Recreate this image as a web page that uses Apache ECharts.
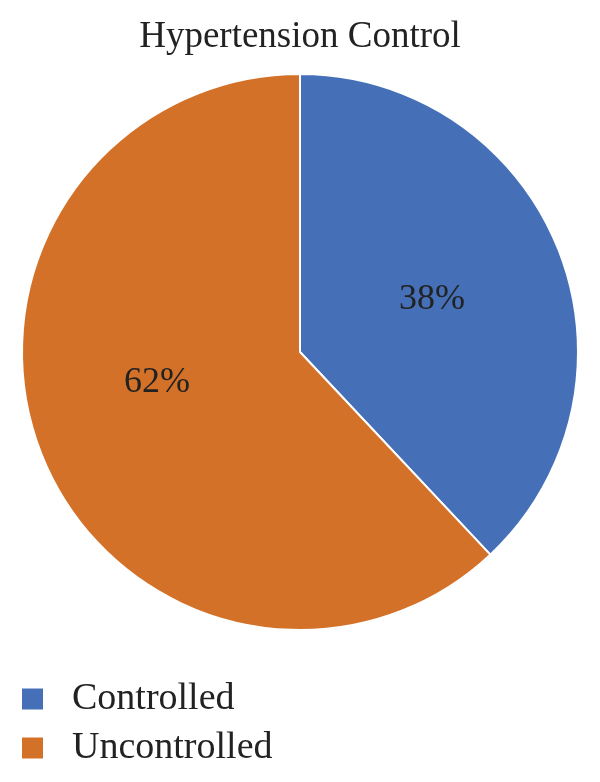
<!DOCTYPE html>
<html>
<head>
<meta charset="utf-8">
<script src="https://cdn.jsdelivr.net/npm/echarts@6/dist/echarts.min.js"></script>
<style>html,body{margin:0;padding:0;background:#fff;}#c{width:600px;height:782px;}</style>
</head>
<body>
<div id="c"></div>
<script>
const categories = ["Controlled", "Uncontrolled"];
const values = [38, 62];
const colors = ["#4570B8", "#D47129"];
const titleText = "Hypertension Control";

const font = "'Liberation Serif', 'DejaVu Serif', serif";
const chart = echarts.init(document.getElementById('c'), null, {renderer: 'canvas'});
const labelOffsets = [[0, 0], [-11, -22]];
const legendTops = [675, 724];
chart.setOption({
  animation: false,
  title: {
    text: titleText, left: 'center', top: 14,
    textStyle: {fontFamily: font, fontSize: 37, fontWeight: 'normal', color: '#222'}
  },
  legend: categories.map((c, i) => ({
    orient: 'vertical', left: 15, top: legendTops[i],
    itemWidth: 23, itemHeight: 23,
    icon: 'rect', selectedMode: false,
    textStyle: {fontFamily: font, fontSize: 38, color: '#222', padding: [0, 0, 0, 23]},
    data: [c]
  })),
  series: [{
    type: 'pie',
    center: [300, 352],
    radius: 278,
    startAngle: 90,
    clockwise: true,
    itemStyle: {borderColor: '#fff', borderWidth: 2},
    label: {position: 'inside', formatter: '{d}%', fontFamily: font, fontSize: 36, color: '#222'},
    labelLine: {show: false},
    emphasis: {disabled: true},
    data: categories.map((c, i) => ({
      name: c, value: values[i],
      itemStyle: {color: colors[i]},
      label: {offset: labelOffsets[i]}
    }))
  }]
});
</script>
</body>
</html>
